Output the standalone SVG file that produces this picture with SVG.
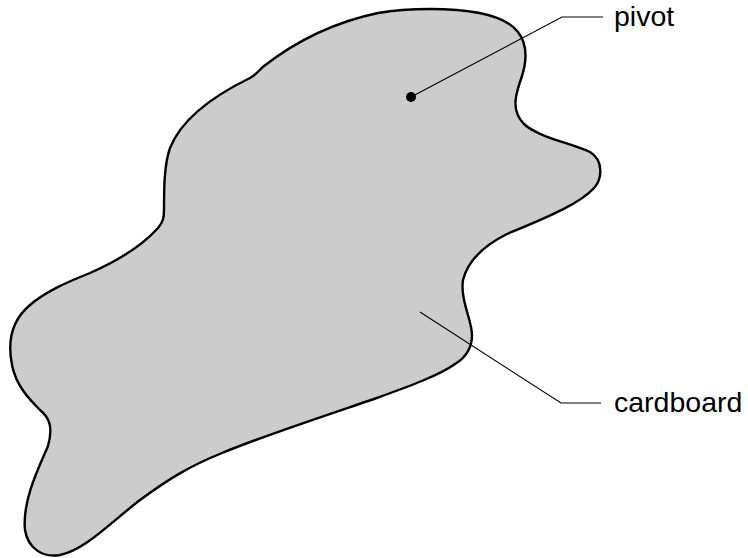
<svg xmlns="http://www.w3.org/2000/svg" width="748" height="558" viewBox="0 0 748 558">
<style>
.shape{fill:#cccccc;stroke:#000;stroke-width:2.4;stroke-linejoin:round}
.lead{fill:none;stroke:#000;stroke-width:1.1}
.lbl{font-family:"Liberation Sans",Arial,sans-serif;font-size:28.5px;fill:#000}
</style>
<g id="cardboard-shape">
<path class="shape" d="M 378,13
C 395,10 410,9 430,9
C 470,9 505,15 518,32
C 528,45 527,60 522,76
C 516,93 510,110 524,124
C 538,137 570,143 590,152
C 603,160 603,178 594,188
C 580,204 545,218 507,234
C 485,245 468,260 463,280
C 460,300 472,320 472,335
C 472,350 465,358 455,364
C 440,375 410,386 374,399
C 330,414 260,437 222,453
C 190,466 170,478 140,500
C 110,523 85,550 60,555
C 42,558 28,548 25,530
C 22,500 40,465 48,446
C 53,428 50,418 40,410
C 28,398 16,385 12,365
C 7,340 12,320 30,305
C 45,292 65,283 90,273
C 115,262 140,248 158,228
C 163,222 164,218 164,210
C 164,190 164,165 170,148
C 182,118 215,95 250,78
C 256,75 258,71 264,66
C 295,42 335,22 378,13 Z"/>
</g>
<g id="connectors">
<polyline class="lead" points="411,97 562,17 603,17"/>
<polyline class="lead" points="420,312 561,403 601,403"/>
</g>
<g id="pivot">
<circle cx="411" cy="97" r="5" fill="#000"/>
<text class="lbl" x="614" y="26">pivot</text>
</g>
<g id="cardboard">
<text class="lbl" x="614" y="412">cardboard</text>
</g>
</svg>
